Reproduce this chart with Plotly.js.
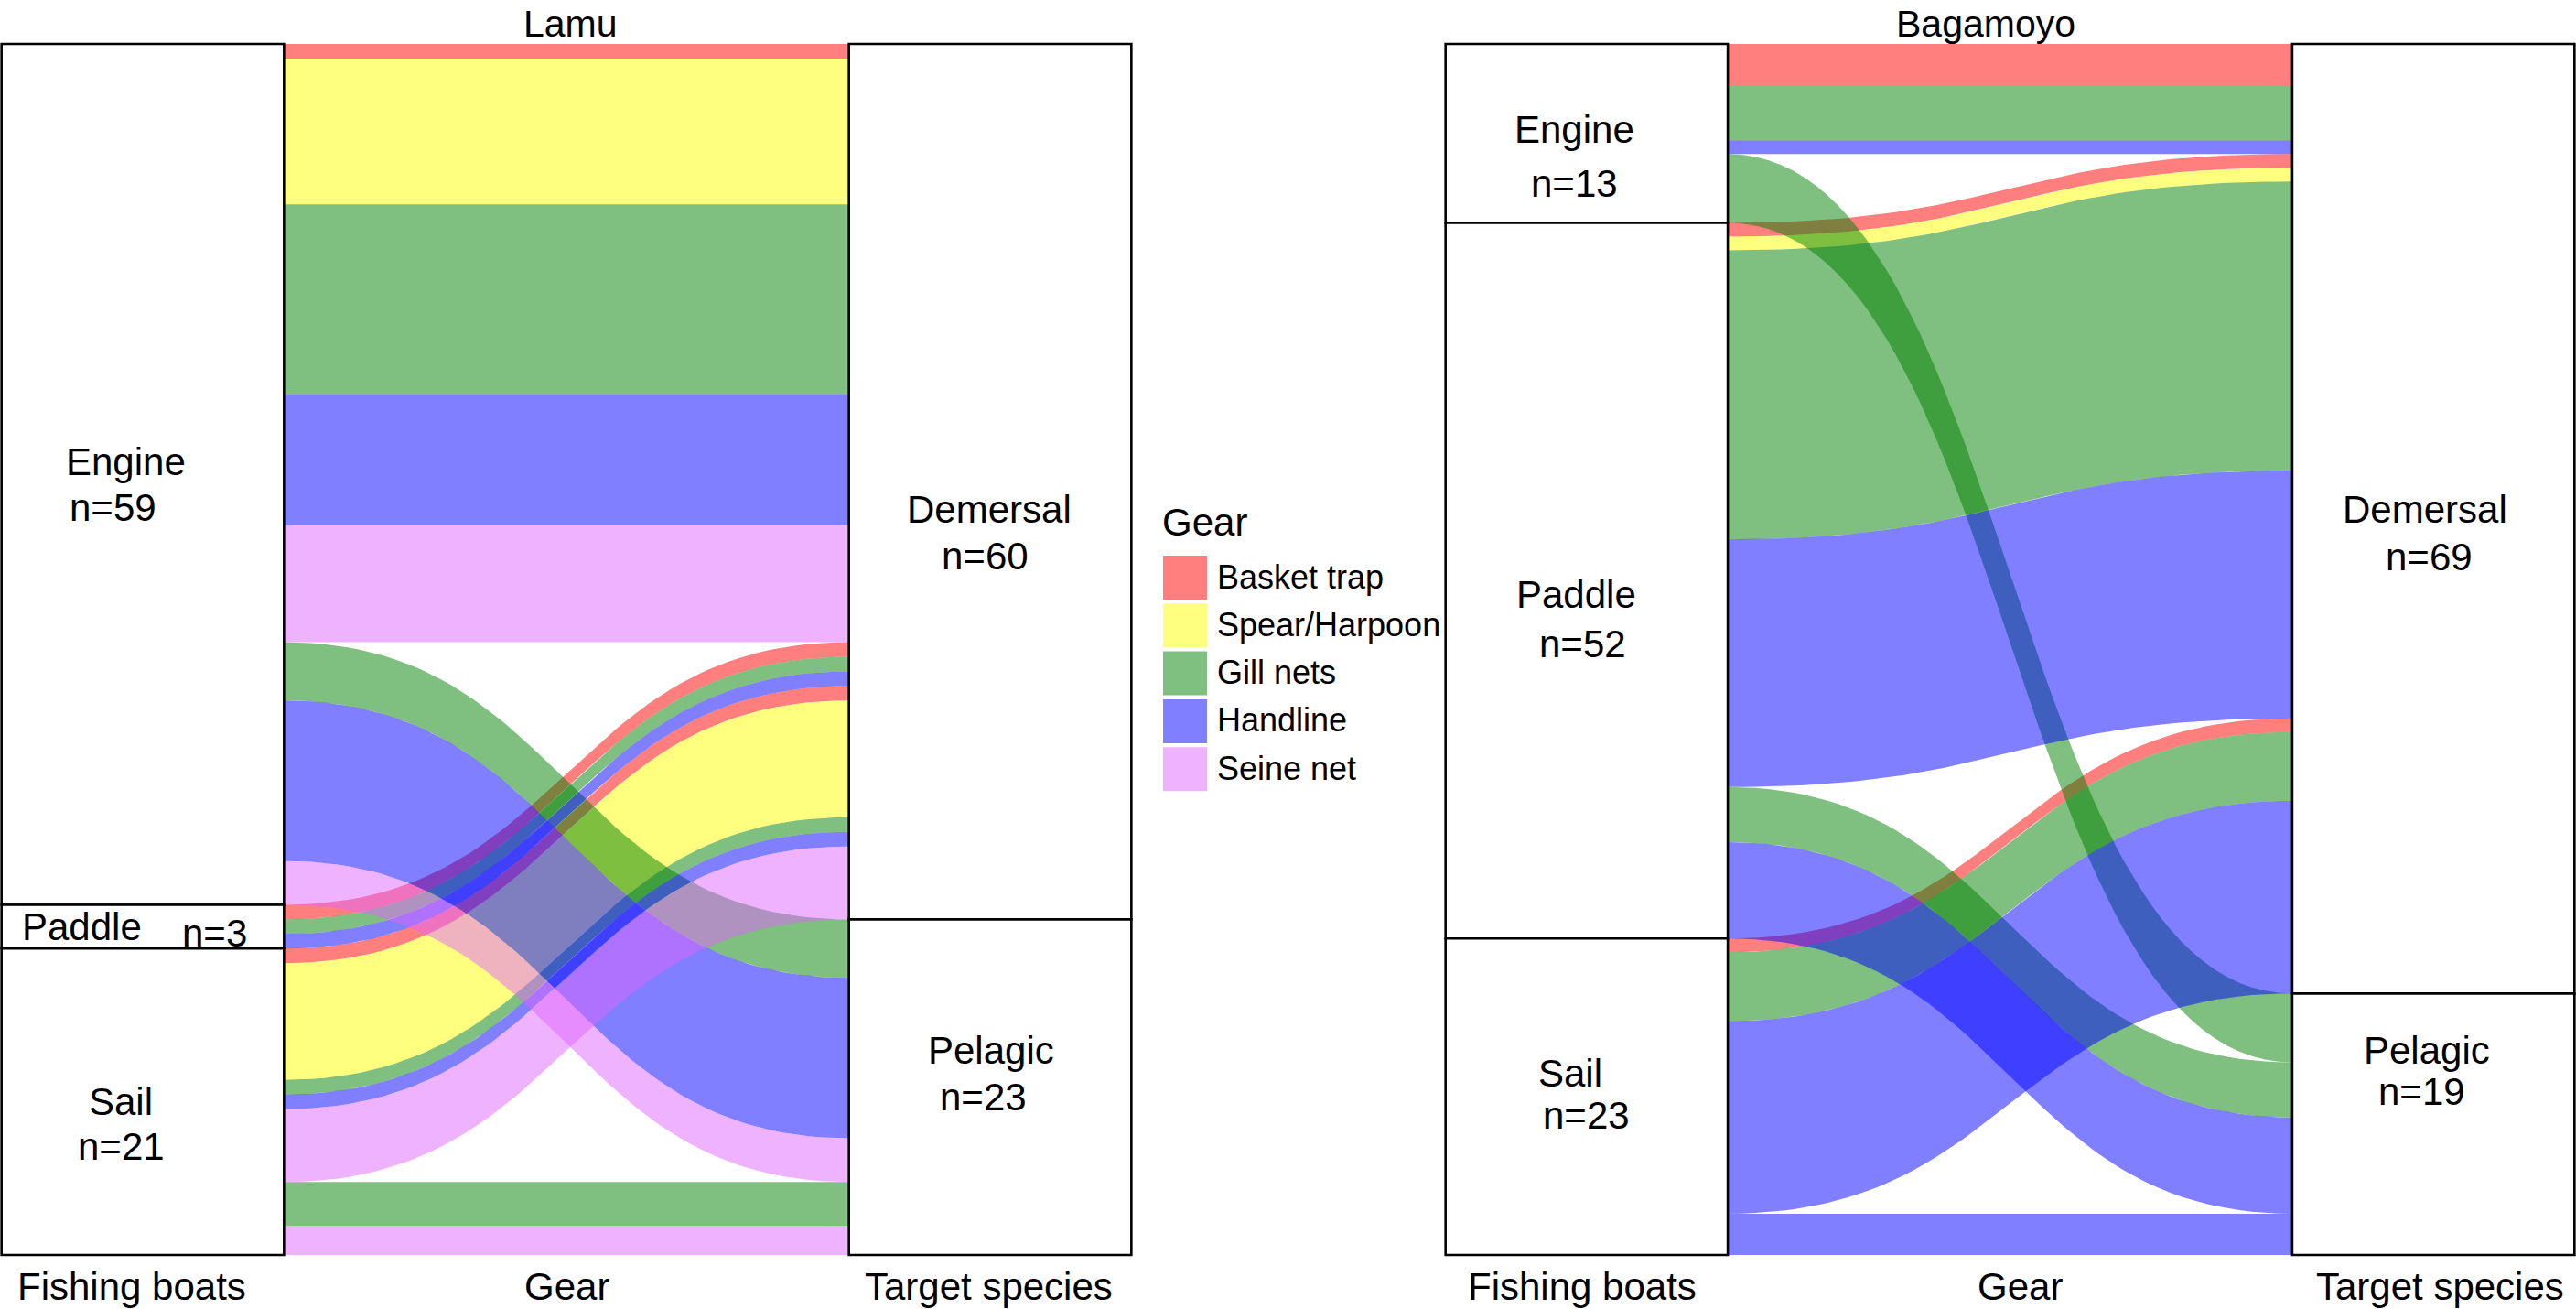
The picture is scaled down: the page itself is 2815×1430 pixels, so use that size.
<!DOCTYPE html>
<html>
<head>
<meta charset="utf-8">
<script src="https://cdn.plot.ly/plotly-3.0.1.min.js"></script>
<style>html,body{margin:0;padding:0;background:#fff;}#chart{width:2815px;height:1430px;}</style>
</head>
<body>
<div id="chart"></div>
<script>
// ---------------- DATA ----------------
const gears = ['Basket trap', 'Spear/Harpoon', 'Gill nets', 'Handline', 'Seine net'];
const boats = ['Engine', 'Paddle', 'Sail'];
const targets = ['Demersal', 'Pelagic'];
const axisLabels = ['Fishing boats', 'Gear', 'Target species'];
const sites = ['Lamu', 'Bagamoyo'];

// Lamu flows
const lamuBoat   = ['Engine','Engine','Engine','Engine','Engine','Engine','Engine','Engine','Paddle','Paddle','Paddle','Sail','Sail','Sail','Sail','Sail','Sail','Sail'];
const lamuGear   = ['Basket trap','Spear/Harpoon','Gill nets','Handline','Seine net','Gill nets','Handline','Seine net','Basket trap','Gill nets','Handline','Basket trap','Spear/Harpoon','Gill nets','Handline','Seine net','Gill nets','Seine net'];
const lamuTarget = ['Demersal','Demersal','Demersal','Demersal','Demersal','Pelagic','Pelagic','Pelagic','Demersal','Demersal','Demersal','Demersal','Demersal','Demersal','Demersal','Demersal','Pelagic','Pelagic'];
const lamuCount  = [1,10,13,9,8,4,11,3,1,1,1,1,8,1,1,5,3,2];

// Bagamoyo flows
const bagBoat   = ['Engine','Engine','Engine','Engine','Paddle','Paddle','Paddle','Paddle','Paddle','Paddle','Sail','Sail','Sail','Sail'];
const bagGear   = ['Basket trap','Gill nets','Handline','Gill nets','Basket trap','Spear/Harpoon','Gill nets','Handline','Gill nets','Handline','Basket trap','Gill nets','Handline','Handline'];
const bagTarget = ['Demersal','Demersal','Demersal','Pelagic','Demersal','Demersal','Demersal','Demersal','Pelagic','Pelagic','Demersal','Demersal','Demersal','Pelagic'];
const bagCount  = [3,4,1,5,1,1,21,18,4,7,1,5,14,3];

// ---------------- STYLE ----------------
const gearColors = ['rgba(255,0,0,0.5)', 'rgba(255,255,0,0.5)', 'rgba(0,128,0,0.5)', 'rgba(0,0,255,0.5)', 'rgba(224,102,255,0.5)'];
const FONT = 'Liberation Sans, Arial, Helvetica, sans-serif';
const W = 2815, H = 1430;
const MT = 45, MB = 56;
const plotH = H - MT - MB;
const stackPx = 1323;            // pixel height of the stacked strata
const stratumWidth = 1 / 3;
const xPad = 0.0018;
const xRange = [1 - stratumWidth / 2 - xPad, 2 + stratumWidth / 2 + xPad];
const domains = [[0, 1238 / W], [1578 / W, 1]];

// label offsets in px (dx right, dy down): [dxName, dyName, dxN, dyN]
const labelOffsets = {
  Lamu: {
    Engine: [-19, -14, -33, 36], Paddle: [-67, 0, 78, 7], Sail: [-24, 0, -24, 49],
    Demersal: [-1, 30, -6, 81], Pelagic: [1, -40, -8, 11]
  },
  Bagamoyo: {
    Engine: [-13, -4, -13, 55], Paddle: [-11, 15, -4, 69], Sail: [-18, -26, 0, 20],
    Demersal: [-9, -10, -5, 42], Pelagic: [-7, -81, -13, -36]
  }
};
const axisLabelShift = { Lamu: [-12, 0, -2], Bagamoyo: [-5, 11, 7] };
const titleShift = { Lamu: 4, Bagamoyo: -27 };

// ---------------- BUILD ----------------
const traces = [];
const shapes = [];
const annotations = [];
const layoutAxes = {};

function bez(p0, p1, p2, p3, t) {
  const u = 1 - t;
  return u * u * u * p0 + 3 * u * u * t * p1 + 3 * u * t * t * p2 + t * t * t * p3;
}

function buildSite(si, boatArr, gearArr, targetArr, countArr) {
  const site = sites[si];
  const xa = si === 0 ? 'x' : 'x2';
  const ya = si === 0 ? 'y' : 'y2';
  const n = countArr.length;
  const idx = [...Array(n).keys()];
  const total = countArr.reduce((a, b) => a + b, 0);
  const gi = i => gears.indexOf(gearArr[i]);
  const bi = i => boats.indexOf(boatArr[i]);
  const ti = i => targets.indexOf(targetArr[i]);

  const L0 = new Array(n), R0 = new Array(n);
  const leftStrata = [], rightStrata = [];
  let cum = 0;
  boats.forEach(b => {
    const start = cum;
    idx.filter(i => boatArr[i] === b)
       .sort((i, j) => (ti(i) - ti(j)) || (gi(i) - gi(j)))
       .forEach(i => { L0[i] = cum; cum += countArr[i]; });
    if (cum > start) leftStrata.push({ name: b, y0: start, y1: cum });
  });
  cum = 0;
  targets.forEach(t => {
    const start = cum;
    idx.filter(i => targetArr[i] === t)
       .sort((i, j) => (bi(i) - bi(j)) || (gi(i) - gi(j)))
       .forEach(i => { R0[i] = cum; cum += countArr[i]; });
    if (cum > start) rightStrata.push({ name: t, y0: start, y1: cum });
  });

  const x0 = 1 + stratumWidth / 2, x1 = 2 - stratumWidth / 2;
  const xm = (x0 + x1) / 2;
  const N = 60;
  const order = idx.slice().sort((i, j) => (gi(i) - gi(j)) || (i - j));
  order.forEach(i => {
    const xs = [], ys = [];
    const a = L0[i], b = R0[i], c = countArr[i];
    for (let k = 0; k <= N; k++) {
      const t = k / N;
      xs.push(bez(x0, xm, xm, x1, t));
      ys.push(bez(a, a, b, b, t));
    }
    for (let k = N; k >= 0; k--) {
      const t = k / N;
      xs.push(bez(x0, xm, xm, x1, t));
      ys.push(bez(a + c, a + c, b + c, b + c, t));
    }
    traces.push({
      type: 'scatter', mode: 'lines', x: xs, y: ys, xaxis: xa, yaxis: ya,
      fill: 'toself', fillcolor: gearColors[gi(i)],
      line: { width: 0, color: 'rgba(0,0,0,0)' },
      name: gearArr[i], text: boatArr[i] + ' → ' + targetArr[i] + ': ' + c,
      hoverinfo: 'name+text', showlegend: false
    });
  });

  const pad = total * 3 / stackPx;
  const axX = si === 0 ? 'xaxis' : 'xaxis2';
  const axY = si === 0 ? 'yaxis' : 'yaxis2';
  layoutAxes[axX] = { domain: domains[si], range: xRange, visible: false, fixedrange: true, anchor: ya };
  layoutAxes[axY] = { domain: [0, 1], range: [total + pad, -pad], visible: false, fixedrange: true, anchor: xa };

  const addStrata = (list, xc) => {
    list.forEach(s => {
      shapes.push({
        type: 'rect', xref: xa, yref: ya,
        x0: xc - stratumWidth / 2, x1: xc + stratumWidth / 2, y0: s.y0, y1: s.y1,
        fillcolor: '#ffffff', line: { color: '#000000', width: 2.6 }, layer: 'above'
      });
      const off = labelOffsets[site][s.name];
      const ymid = (s.y0 + s.y1) / 2;
      annotations.push({
        xref: xa, yref: ya, x: xc, y: ymid, text: s.name, showarrow: false,
        xanchor: 'center', yanchor: 'middle', xshift: off[0], yshift: -off[1],
        font: { family: FONT, size: 42, color: '#000' }
      });
      annotations.push({
        xref: xa, yref: ya, x: xc, y: ymid, text: 'n=' + (s.y1 - s.y0), showarrow: false,
        xanchor: 'center', yanchor: 'middle', xshift: off[2], yshift: -off[3],
        font: { family: FONT, size: 42, color: '#000' }
      });
    });
  };
  addStrata(leftStrata, 1);
  addStrata(rightStrata, 2);

  // axis labels
  [1, 1.5, 2].forEach((xv, k) => {
    annotations.push({
      xref: xa, yref: 'paper', x: xv, y: 0, text: axisLabels[k], showarrow: false,
      xanchor: 'center', yanchor: 'middle', xshift: axisLabelShift[site][k], yshift: -(1405 - (H - MB)),
      font: { family: FONT, size: 42, color: '#000' }
    });
  });
  // site title
  annotations.push({
    xref: xa, yref: 'paper', x: 1.5, y: 1, text: site, showarrow: false,
    xanchor: 'center', yanchor: 'top', xshift: titleShift[site], yshift: MT - 1,
    font: { family: FONT, size: 41, color: '#000' }
  });
}

buildSite(0, lamuBoat, lamuGear, lamuTarget, lamuCount);
buildSite(1, bagBoat, bagGear, bagTarget, bagCount);

// ---------------- LEGEND (drawn) ----------------
const pxX = px => px / W;
const pxY = py => (H - MB - py) / plotH;
const legKeyLeft = 1271, legKeySize = 48, legTop = 607, legStep = 52.3, legTextLeft = 1328;
annotations.push({
  xref: 'paper', yref: 'paper', x: pxX(1268), y: pxY(570), text: 'Gear', showarrow: false,
  xanchor: 'left', yanchor: 'middle', font: { family: FONT, size: 42, color: '#000' }
});
gears.forEach((g, k) => {
  const top = legTop + k * legStep;
  shapes.push({
    type: 'rect', xref: 'paper', yref: 'paper',
    x0: pxX(legKeyLeft), x1: pxX(legKeyLeft + legKeySize),
    y0: pxY(top + legKeySize), y1: pxY(top),
    fillcolor: gearColors[k], line: { width: 0 }
  });
  annotations.push({
    xref: 'paper', yref: 'paper', x: pxX(legTextLeft), y: pxY(top + legKeySize / 2 - 1), text: g, showarrow: false,
    xanchor: 'left', yanchor: 'middle', font: { family: FONT, size: 36, color: '#000' }
  });
});

const layout = Object.assign({
  width: W, height: H,
  margin: { l: 0, r: 0, t: MT, b: MB, pad: 0 },
  paper_bgcolor: '#ffffff', plot_bgcolor: 'rgba(0,0,0,0)',
  showlegend: false,
  font: { family: FONT, color: '#000' },
  shapes: shapes, annotations: annotations,
  hovermode: 'closest'
}, layoutAxes);

Plotly.newPlot('chart', traces, layout, { staticPlot: false, displayModeBar: false, responsive: false });
</script>
</body>
</html>
